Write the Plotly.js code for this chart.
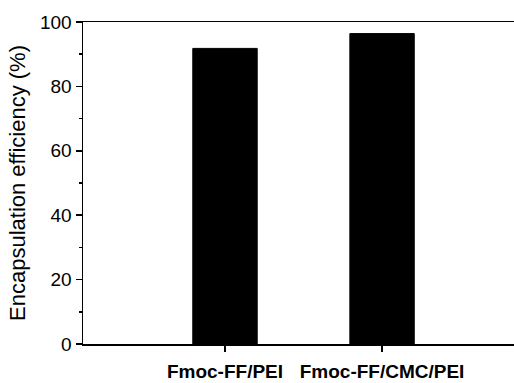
<!DOCTYPE html>
<html><head><meta charset="utf-8">
<script src="https://cdn.plot.ly/plotly-3.0.1.min.js"></script>
<style>html,body{margin:0;padding:0;background:#fff}</style>
</head><body>
<div id="chart" style="width:514px;height:383px"></div>
<script>
const categories = ["Fmoc-FF/PEI", "Fmoc-FF/CMC/PEI"];
const efficiency = [91.8, 96.4];
const yTicks = [0, 20, 40, 60, 80, 100];

const trace = {
  type: "bar",
  x: categories,
  y: efficiency,
  width: 0.41,
  marker: {color: "#000", line: {color: "#000", width: 1}},
  hoverinfo: "skip"
};

const layout = {
  width: 514, height: 383,
  margin: {l: 83, r: 0, t: 22, b: 39},
  paper_bgcolor: "#fff", plot_bgcolor: "#fff",
  showlegend: false,
  font: {family: "Arial, Liberation Sans, sans-serif", color: "#000"},
  xaxis: {
    range: [-0.904, 1.84],
    showline: true, mirror: true, linecolor: "#000", linewidth: 1.5,
    ticks: "outside", ticklen: 6, tickwidth: 1.5, tickcolor: "#000",
    ticklabelstandoff: 4,
    tickfont: {size: 19, family: "Arial, Liberation Sans, sans-serif", weight: "bold", color: "#000"},
    showgrid: false, zeroline: false, fixedrange: true
  },
  yaxis: {
    range: [0, 100],
    tickvals: yTicks,
    showline: true, linecolor: "#000", linewidth: 1.5,
    ticks: "outside", ticklen: 6, tickwidth: 1.5, tickcolor: "#000",
    minor: {dtick: 10, tick0: 0, ticks: "outside", ticklen: 3, tickwidth: 1.5, tickcolor: "#000", showgrid: false},
    tickfont: {size: 19, color: "#000"},
    showgrid: false, zeroline: false,
    title: {text: "Encapsulation efficiency (%)", font: {size: 22, color: "#000"}, standoff: 8}
  },
  shapes: [{type: "line", xref: "paper", yref: "y", x0: -0.01, x1: 0, y0: 0, y1: 0,
            line: {color: "#000", width: 1.5}}]
};

Plotly.newPlot("chart", [trace], layout, {displayModeBar: false, staticPlot: true});
</script>
</body></html>
